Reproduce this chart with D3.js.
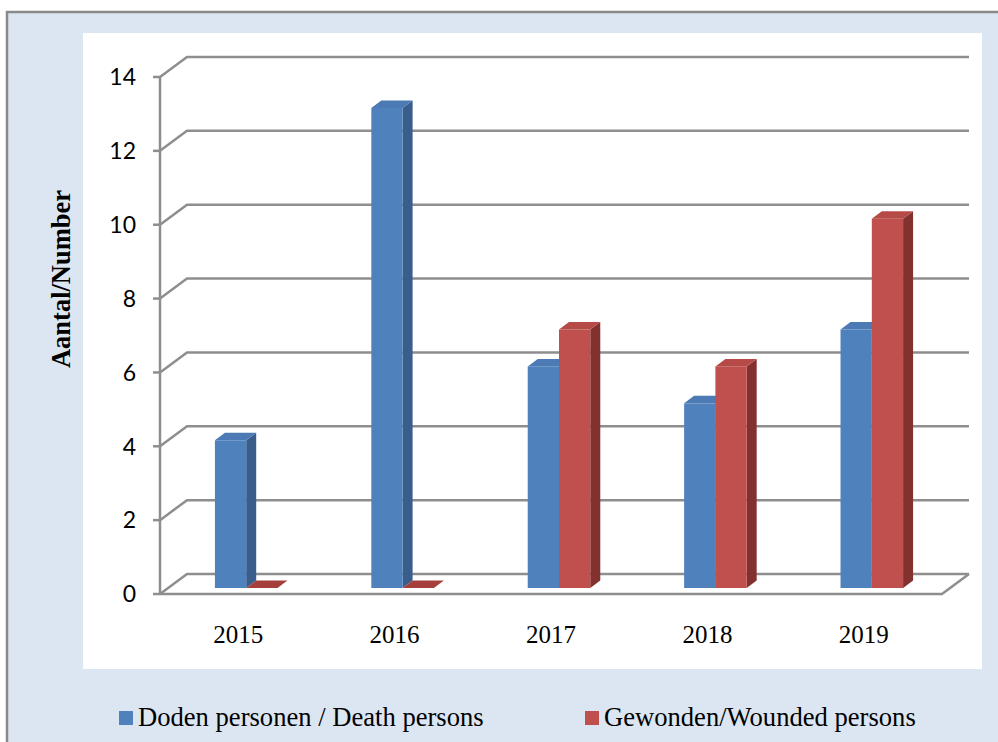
<!DOCTYPE html>
<html>
<head>
<meta charset="utf-8">
<script src="https://cdn.jsdelivr.net/npm/d3@7"></script>
<style>
  html, body { margin: 0; padding: 0; background: #ffffff; }
  svg { display: block; }
</style>
</head>
<body>
<svg id="chart" width="998" height="742"></svg>
<script>
// Yearly counts of victims
const years = ["2015", "2016", "2017", "2018", "2019"];
const deaths = [4, 13, 6, 5, 7];
const wounded = [0, 0, 7, 6, 10];
const yTicks = [0, 2, 4, 6, 8, 10, 12, 14];
const seriesNames = ["Doden personen / Death persons", "Gewonden/Wounded persons"];

const svg = d3.select("#chart");
const W = 998, H = 742;

// Outer frame and panel background
svg.append("rect").attr("x", 7).attr("y", 12).attr("width", W + 10).attr("height", H + 10)
  .attr("fill", "#dce6f2").attr("stroke", "#8a8a8a").attr("stroke-width", 2.5);
svg.append("rect").attr("x", 83).attr("y", 33).attr("width", 899).attr("height", 636)
  .attr("fill", "#ffffff");

// Scales for the front plane of the 3-D box
const x = d3.scaleBand().domain(years).range([160, 942]);
const y = d3.scaleLinear().domain([0, 14]).range([594, 77]);

// Depth offsets (oblique projection)
const depthX = 27, depthY = -20;          // back wall
const barZ0 = { dx: 8, dy: -6 };          // bar front face
const barDepth = { dx: 10, dy: -7.5 };    // bar side depth

const gridColor = "#8e8e8e";
const grid = svg.append("g").attr("fill", "none").attr("stroke", gridColor)
  .attr("stroke-width", 2.5).attr("stroke-linejoin", "round");

const x0 = x.range()[0], x1 = x.range()[1];

// Back-wall gridlines with their side-wall connectors
yTicks.forEach(t => {
  const yy = y(t);
  grid.append("path").attr("d",
    `M${x0},${yy} L${x0 + depthX},${yy + depthY} L${x1 + depthX},${yy + depthY}`);
});

// Floor outline
grid.append("path").attr("d",
  `M${x0},${y(0)} L${x1},${y(0)} L${x1 + depthX},${y(0) + depthY}`);

// Vertical axis and tick marks
grid.append("line").attr("x1", x0).attr("x2", x0).attr("y1", y(14)).attr("y2", y(0));
yTicks.forEach(t => {
  grid.append("line").attr("x1", x0 - 7).attr("x2", x0).attr("y1", y(t)).attr("y2", y(t));
});

// Tick labels
svg.append("g").selectAll("text").data(yTicks).join("text")
  .attr("x", 136).attr("y", d => y(d))
  .attr("dy", "0.36em")
  .attr("text-anchor", "end")
  .attr("font-family", "Lato, 'Open Sans', sans-serif")
  .attr("font-size", 23)
  .attr("fill", "#000")
  .text(d => d);

// Category labels
svg.append("g").selectAll("text").data(years).join("text")
  .attr("x", d => x(d) + x.bandwidth() / 2)
  .attr("y", 643)
  .attr("text-anchor", "middle")
  .attr("font-family", "'Liberation Serif', 'Times New Roman', serif")
  .attr("font-size", 25)
  .attr("fill", "#000")
  .text(d => d);

// Y axis title
svg.append("text")
  .attr("transform", "translate(70,279) rotate(-90)")
  .attr("text-anchor", "middle")
  .attr("font-family", "'Liberation Serif', 'Times New Roman', serif")
  .attr("font-weight", "bold")
  .attr("font-size", 26.5)
  .attr("fill", "#000")
  .text("Aantal/Number");

// 3-D bars
const barW = x.bandwidth() * 0.2;
const palette = [
  { front: "#4f81bd", top: "#4b7ab4", side: "#395e8c" },
  { front: "#c0504d", top: "#b64a47", side: "#82312f" }
];
const seriesData = [deaths, wounded];

const bars = svg.append("g");
years.forEach((yr, i) => {
  const c = x(yr) + x.bandwidth() / 2 + barZ0.dx;
  seriesData.forEach((vals, s) => {
    const v = vals[i];
    const left = c - barW + s * barW;
    const right = left + barW;
    const bottom = y(0) + barZ0.dy;
    const top = y(v) + barZ0.dy;
    const col = palette[s];
    const g = bars.append("g");
    if (v > 0) {
      // side face
      g.append("path").attr("fill", col.side).attr("d",
        `M${right},${top} L${right + barDepth.dx},${top + barDepth.dy} ` +
        `L${right + barDepth.dx},${bottom + barDepth.dy} L${right},${bottom} Z`);
      // front face
      g.append("rect").attr("x", left).attr("y", top)
        .attr("width", barW).attr("height", bottom - top).attr("fill", col.front);
    }
    // top face
    g.append("path").attr("fill", v > 0 ? col.top : "#a53f3c").attr("d",
      `M${left},${top} L${right},${top} L${right + barDepth.dx},${top + barDepth.dy} ` +
      `L${left + barDepth.dx},${top + barDepth.dy} Z`);
  });
});

// Legend
const legend = svg.append("g");
const legendX = [119, 585];
seriesNames.forEach((name, s) => {
  legend.append("rect").attr("x", legendX[s]).attr("y", 711)
    .attr("width", 14).attr("height", 14).attr("fill", palette[s].front);
  legend.append("text")
    .attr("x", legendX[s] + 19).attr("y", 726)
    .attr("font-family", "'Liberation Serif', 'Times New Roman', serif")
    .attr("font-size", 26.6)
    .attr("fill", "#000")
    .text(name);
});
</script>
</body>
</html>
